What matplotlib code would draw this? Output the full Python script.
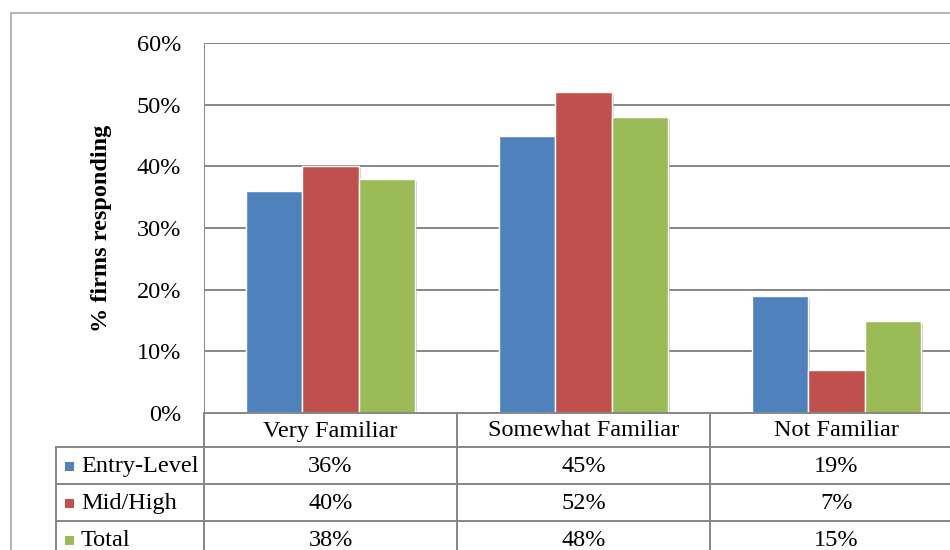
import matplotlib
matplotlib.use("Agg")
import matplotlib.pyplot as plt
from matplotlib.lines import Line2D
from matplotlib.patches import Rectangle
import matplotlib.patheffects as pe
import numpy as np

categories = ["Very Familiar", "Somewhat Familiar", "Not Familiar"]
series_names = ["Entry-Level", "Mid/High", "Total"]
entry_level = [36, 45, 19]
mid_high = [40, 52, 7]
total = [38, 48, 15]
y_ticks = [0, 10, 20, 30, 40, 50, 60]
y_label = "% firms responding"

colors = ["#4F81BD", "#C0504D", "#9BBB59"]
series = [entry_level, mid_high, total]

plt.rcParams['font.family'] = ['Liberation Serif', 'DejaVu Serif']
FS = 17.5

W, H = 950, 550
fig = plt.figure(figsize=(9.5, 5.5), dpi=100)

def fx(x):
    return x / W

def fy(y):
    return 1 - y / H

# plot area in pixels
L, R, T, B = 204, 963, 43, 413
ax = fig.add_axes([fx(L), fy(B), fx(R) - fx(L), fy(T) - fy(B)])
ax.set_xlim(-0.5, len(categories) - 0.5)
ax.set_ylim(0, 60)
ax.set_yticks(y_ticks)
ax.set_yticklabels([f"{t}%" for t in y_ticks], fontsize=FS)
ax.set_xticks([])
ax.tick_params(axis='y', length=0, pad=16.5)
for s in ax.spines.values():
    s.set_visible(False)
ax.grid(axis='y', color='#868686', linewidth=1.4, zorder=0)
ax.set_axisbelow(True)
ax.axvline(-0.5, color='#868686', linewidth=1.4, zorder=1)

gap = 1.5
bw = 1.0 / (3 + gap)
x = np.arange(len(categories))
shadow = [pe.SimplePatchShadow(offset=(1.5, -1.5), shadow_rgbFace='#999999', alpha=0.5), pe.Normal()]
for i, (vals, c) in enumerate(zip(series, colors)):
    bars = ax.bar(x + (i - 1) * bw, vals, width=bw, color=c, edgecolor='white',
                  linewidth=1.0, zorder=3)
    for b in bars:
        b.set_path_effects(shadow)

ax.set_ylabel(y_label, fontsize=FS, fontweight='bold', labelpad=17.5)

# outer chart border
fig.add_artist(Rectangle((fx(11), fy(600)), fx(1100) - fx(11), fy(13) - fy(600),
                         transform=fig.transFigure, fill=False,
                         edgecolor='#a6a6a6', linewidth=1.2))

# data table
gc = '#868686'
lw = 1.4
row_h = 37
header_top = B
header_bot = 447
col_edges = [L + (R - L) * k / len(categories) for k in range(len(categories) + 1)]
legend_left = 56

def hline(y, x0, x1):
    fig.add_artist(Line2D([fx(x0), fx(x1)], [fy(y), fy(y)], color=gc, linewidth=lw))

def vline(x, y0, y1):
    fig.add_artist(Line2D([fx(x), fx(x)], [fy(y0), fy(y1)], color=gc, linewidth=lw))

hline(header_top, L, R + 10)
for r in range(len(series) + 1):
    hline(header_bot + r * row_h, legend_left, R + 10)
vline(legend_left, header_bot, 600)
for ce in col_edges:
    vline(ce, header_top, 600)

for k, cat in enumerate(categories):
    cx = (col_edges[k] + col_edges[k + 1]) / 2
    fig.text(fx(cx), fy((header_top + header_bot) / 2 + 1), cat, ha='center', va='center', fontsize=FS)

for r, (name, vals, c) in enumerate(zip(series_names, series, colors)):
    yc = header_bot + r * row_h + row_h / 2 + 1
    fig.add_artist(Rectangle((fx(65), fy(yc + 4.5)), fx(9) - fx(0), fy(0) - fy(9),
                             transform=fig.transFigure, facecolor=c, edgecolor='none'))
    fig.text(fx(81), fy(yc), name, ha='left', va='center', fontsize=FS)
    for k, v in enumerate(vals):
        cx = (col_edges[k] + col_edges[k + 1]) / 2
        fig.text(fx(cx), fy(yc), f"{v}%", ha='center', va='center', fontsize=FS)

fig.savefig("out.png", dpi=100, facecolor='white')
